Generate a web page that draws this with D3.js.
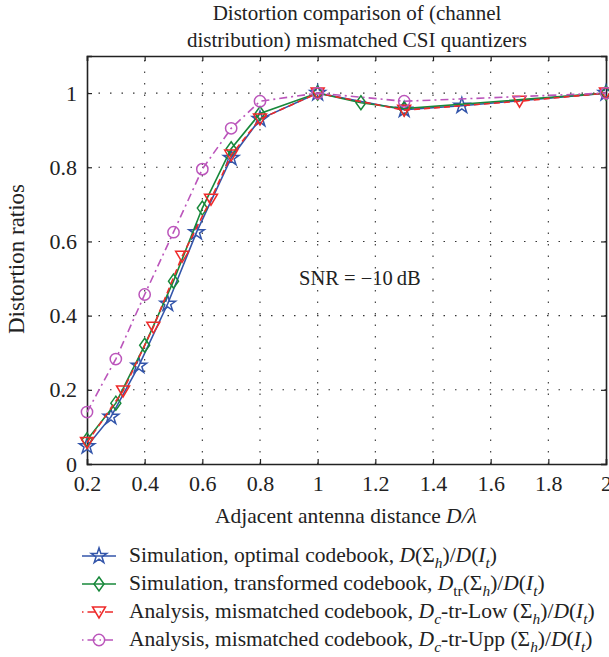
<!DOCTYPE html>
<html>
<head>
<meta charset="utf-8">
<script src="https://cdn.jsdelivr.net/npm/d3@7"></script>
<style>
  html, body { margin: 0; padding: 0; background: #fff; }
  svg { display: block; font-family: "Liberation Serif", "DejaVu Serif", serif; }
</style>
</head>
<body>
<div id="chart"></div>
<script>
// ---- data ----
const xTicks = [0.2, 0.4, 0.6, 0.8, 1, 1.2, 1.4, 1.6, 1.8, 2];
const yTicks = [0, 0.2, 0.4, 0.6, 0.8, 1];

const optX = [0.2, 0.283, 0.38, 0.48, 0.58, 0.7, 0.8, 1.0, 1.3, 1.5, 2.0];
const optY = [0.048, 0.127, 0.265, 0.432, 0.625, 0.825, 0.93, 1.0, 0.955, 0.966, 1.0];

const trX = [0.2, 0.3, 0.4, 0.5, 0.6, 0.7, 0.8, 1.0, 1.15, 1.3, 2.0];
const trY = [0.065, 0.164, 0.32, 0.493, 0.69, 0.85, 0.945, 1.0, 0.974, 0.958, 1.0];

const lowX = [0.2, 0.325, 0.43, 0.53, 0.63, 0.7, 0.8, 1.0, 1.3, 1.7, 2.0];
const lowY = [0.058, 0.197, 0.369, 0.56, 0.714, 0.833, 0.93, 1.0, 0.954, 0.978, 1.0];

const uppX = [0.2, 0.3, 0.4, 0.5, 0.6, 0.7, 0.8, 1.0, 1.3, 2.0];
const uppY = [0.14, 0.283, 0.457, 0.625, 0.795, 0.905, 0.978, 1.0, 0.978, 1.0];

const series = [
  { xs: optX, ys: optY, color: '#3355aa', dash: null, marker: 'star',
    label: [['Simulation, optimal codebook, '], ['D', 'i'], ['(Σ'], ['h', 'isub'], [')/'], ['D', 'i'], ['('], ['I', 'i'], ['t', 'isub'], [')']] },
  { xs: trX, ys: trY, color: '#17883a', dash: null, marker: 'diamond',
    label: [['Simulation, transformed codebook, '], ['D', 'i'], ['tr', 'sub'], ['(Σ'], ['h', 'isub'], [')/'], ['D', 'i'], ['('], ['I', 'i'], ['t', 'isub'], [')']] },
  { xs: lowX, ys: lowY, color: '#ee2a2a', dash: '6,4', marker: 'tri',
    label: [['Analysis, mismatched codebook, '], ['D', 'i'], ['c', 'isub'], ['-tr-Low (Σ'], ['h', 'isub'], [')/'], ['D', 'i'], ['('], ['I', 'i'], ['t', 'isub'], [')']] },
  { xs: uppX, ys: uppY, color: '#bb55bb', dash: '8,4,2,4', marker: 'circle',
    label: [['Analysis, mismatched codebook, '], ['D', 'i'], ['c', 'isub'], ['-tr-Upp (Σ'], ['h', 'isub'], [')/'], ['D', 'i'], ['('], ['I', 'i'], ['t', 'isub'], [')']] }
];

const W = 609, H = 657;
const plot = { left: 87, right: 606, top: 56, bottom: 464 };

const svg = d3.select('#chart').append('svg')
  .attr('width', W).attr('height', H);

const x = d3.scaleLinear().domain([0.2, 2]).range([plot.left, plot.right]);
const y = d3.scaleLinear().domain([0, 1.1]).range([plot.bottom, plot.top]);

// grid
const grid = svg.append('g').attr('stroke', '#333').attr('stroke-width', 1.1)
  .attr('stroke-dasharray', '1.5,10');
xTicks.slice(1, -1).forEach(t => {
  grid.append('line').attr('x1', x(t)).attr('x2', x(t))
    .attr('y1', plot.bottom).attr('y2', plot.top);
});
yTicks.slice(1).forEach(t => {
  grid.append('line').attr('x1', plot.left).attr('x2', plot.right)
    .attr('y1', y(t)).attr('y2', y(t));
});

// axes: ticks pointing inward
const axB = svg.append('g').attr('transform', `translate(0,${plot.bottom})`)
  .call(d3.axisBottom(x).tickValues(xTicks).tickSize(-5).tickPadding(11).tickFormat(d3.format('')));
const axL = svg.append('g').attr('transform', `translate(${plot.left},0)`)
  .call(d3.axisLeft(y).tickValues(yTicks).tickSize(-5).tickPadding(10).tickFormat(d3.format('')));
const axT = svg.append('g').attr('transform', `translate(0,${plot.top})`)
  .call(d3.axisTop(x).tickValues(xTicks).tickSize(-5).tickFormat(''));
const axR = svg.append('g').attr('transform', `translate(${plot.right},0)`)
  .call(d3.axisRight(y).tickValues(yTicks).tickSize(-5).tickFormat(''));

[axB, axL, axT, axR].forEach(a => {
  a.select('.domain').attr('stroke', '#222').attr('stroke-width', 1.6);
  a.selectAll('.tick line').attr('stroke', '#222').attr('stroke-width', 1.2);
  a.selectAll('text').attr('font-family', '"Liberation Serif", serif')
    .attr('font-size', 22).attr('fill', '#222');
});

// markers
function markerPath(kind) {
  if (kind === 'star') return d3.symbol(d3.symbolStar, 75)();
  if (kind === 'diamond') return 'M0,-7L5,0L0,7L-5,0Z';
  if (kind === 'tri') return 'M-6.5,-5L6.5,-5L0,6Z';
  return d3.symbol(d3.symbolCircle, 100)();
}

const line = d3.line().x(d => x(d[0])).y(d => y(d[1]));

series.forEach(s => {
  const pts = s.xs.map((v, i) => [v, s.ys[i]]);
  svg.append('path').datum(pts)
    .attr('d', line)
    .attr('fill', 'none').attr('stroke', s.color).attr('stroke-width', 1.6)
    .attr('stroke-dasharray', s.dash);
  svg.append('g').selectAll('path').data(pts).join('path')
    .attr('transform', d => `translate(${x(d[0])},${y(d[1])})`)
    .attr('d', markerPath(s.marker))
    .attr('fill', 'none').attr('stroke', s.color).attr('stroke-width', 1.5);
});

// rich text helper (italic, subscripts)
function richText(el, parts, size) {
  parts.forEach((p, i) => {
    const style = p[1] || '';
    const prev = i > 0 ? (parts[i - 1][1] || '') : '';
    const wasSub = prev.includes('sub');
    const isSub = style.includes('sub');
    let dy = 0;
    if (isSub && !wasSub) dy = size * 0.3;
    if (!isSub && wasSub) dy = -size * 0.3;
    el.append('tspan')
      .attr('dy', dy)
      .attr('font-style', style.startsWith('i') ? 'italic' : 'normal')
      .attr('font-size', isSub ? size * 0.72 : size)
      .text(p[0]);
  });
}

// title
const title = svg.append('text').attr('text-anchor', 'middle')
  .attr('font-size', 21).attr('fill', '#222');
title.append('tspan').attr('x', 357).attr('y', 20).text('Distortion comparison of (channel');
title.append('tspan').attr('x', 357).attr('y', 47).text('distribution) mismatched CSI quantizers');

// axis labels
const xl = svg.append('text').attr('x', 346).attr('y', 523)
  .attr('text-anchor', 'middle').attr('font-size', 21.5).attr('fill', '#222');
richText(xl, [['Adjacent antenna distance '], ['D/λ', 'i']], 21.5);

svg.append('text')
  .attr('transform', 'translate(24,259) rotate(-90)')
  .attr('text-anchor', 'middle').attr('font-size', 23).attr('fill', '#222')
  .text('Distortion ratios');

// annotation
svg.append('text').attr('x', 299).attr('y', 285)
  .attr('font-size', 20.5).attr('fill', '#222')
  .text('SNR = \u221210\u2009dB');

// legend
const legY = [556, 584, 612, 640];
series.forEach((s, i) => {
  const g = svg.append('g').attr('transform', `translate(0,${legY[i]})`);
  g.append('line').attr('x1', 82).attr('x2', 116).attr('y1', 0).attr('y2', 0)
    .attr('stroke', s.color).attr('stroke-width', 1.6)
    .attr('stroke-dasharray', s.dash ? '1.5,4,8,4' : null);
  g.append('path').attr('transform', 'translate(99,0)')
    .attr('d', markerPath(s.marker))
    .attr('fill', 'none').attr('stroke', s.color).attr('stroke-width', 1.5);
  const t = g.append('text').attr('x', 129).attr('y', 6)
    .attr('font-size', 21.5).attr('fill', '#222');
  richText(t, s.label, 21.5);
});
</script>
</body>
</html>
